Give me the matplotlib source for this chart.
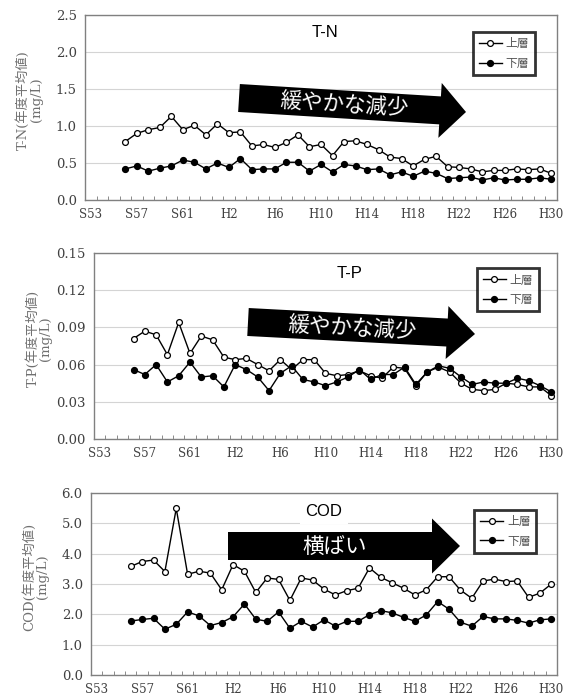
# Lake water quality trends (T-N, T-P, COD), upper/lower layer annual means
import numpy as np
import matplotlib.pyplot as plt
from matplotlib.patches import Polygon

# DATA
years = np.arange(1981, 2019)  # S56 .. H30
tick_years = [1978, 1982, 1986, 1990, 1994, 1998, 2002, 2006, 2010, 2014, 2018]
tick_labels = ["S53", "S57", "S61", "H2", "H6", "H10", "H14", "H18", "H22", "H26", "H30"]

tn_upper = [0.79, 0.90, 0.95, 0.98, 1.13, 0.95, 1.01, 0.88, 1.03, 0.91, 0.92, 0.73, 0.75, 0.71,
            0.78, 0.88, 0.72, 0.75, 0.60, 0.79, 0.80, 0.75, 0.68, 0.58, 0.56, 0.46, 0.55, 0.59,
            0.45, 0.44, 0.42, 0.38, 0.40, 0.40, 0.42, 0.41, 0.42, 0.36]
tn_lower = [0.42, 0.46, 0.39, 0.43, 0.46, 0.54, 0.51, 0.42, 0.50, 0.44, 0.56, 0.41, 0.42, 0.42,
            0.51, 0.51, 0.39, 0.48, 0.38, 0.48, 0.46, 0.41, 0.42, 0.34, 0.38, 0.32, 0.39, 0.36,
            0.29, 0.30, 0.31, 0.27, 0.30, 0.27, 0.28, 0.28, 0.30, 0.28]

tp_upper = [0.081, 0.087, 0.084, 0.068, 0.094, 0.069, 0.083, 0.080, 0.066, 0.064, 0.065, 0.060,
            0.055, 0.064, 0.056, 0.064, 0.064, 0.053, 0.051, 0.052, 0.055, 0.051, 0.049, 0.058,
            0.057, 0.043, 0.054, 0.058, 0.054, 0.045, 0.040, 0.039, 0.040, 0.045, 0.044, 0.042,
            0.042, 0.035]
tp_lower = [0.056, 0.052, 0.060, 0.046, 0.051, 0.062, 0.050, 0.051, 0.042, 0.060, 0.056, 0.050,
            0.039, 0.053, 0.059, 0.048, 0.046, 0.043, 0.046, 0.050, 0.056, 0.048, 0.052, 0.052,
            0.058, 0.044, 0.054, 0.059, 0.057, 0.050, 0.044, 0.046, 0.045, 0.045, 0.049, 0.047,
            0.043, 0.038]

cod_upper = [3.58, 3.74, 3.79, 3.41, 5.49, 3.32, 3.42, 3.36, 2.81, 3.64, 3.42, 2.72, 3.20, 3.15,
             2.46, 3.20, 3.13, 2.83, 2.64, 2.78, 2.86, 3.53, 3.22, 3.04, 2.86, 2.64, 2.81, 3.24,
             3.24, 2.80, 2.53, 3.10, 3.16, 3.08, 3.10, 2.56, 2.70, 3.00]
cod_lower = [1.78, 1.83, 1.87, 1.51, 1.67, 2.08, 1.95, 1.63, 1.73, 1.92, 2.34, 1.84, 1.77, 2.08,
             1.54, 1.77, 1.58, 1.82, 1.61, 1.77, 1.77, 1.99, 2.12, 2.05, 1.90, 1.77, 1.98, 2.42,
             2.17, 1.74, 1.61, 1.93, 1.85, 1.85, 1.80, 1.71, 1.82, 1.85]

W, H = 568, 697
fig = plt.figure(figsize=(W / 100, H / 100), dpi=100)

jp_serif = ["DejaVu Serif", "Noto Sans CJK JP"]
jp_sans = ["Noto Sans CJK JP", "DejaVu Sans"]


def px_rect(left, top, right, bottom):
    # pixel box (image coords) -> figure fraction rect
    return [left / W, 1 - bottom / H, (right - left) / W, (bottom - top) / H]


def draw_arrow(tail, tip, body_w, head_w, head_l, text, text_xy, rot):
    t = np.array(tail, float)
    p = np.array(tip, float)
    u = (p - t) / np.linalg.norm(p - t)
    n = np.array([-u[1], u[0]])
    base = p - u * head_l
    pts = [t + n * body_w / 2, base + n * body_w / 2, base + n * head_w / 2, p,
           base - n * head_w / 2, base - n * body_w / 2, t - n * body_w / 2]
    pts = [(q[0] / W, 1 - q[1] / H) for q in pts]
    fig.add_artist(Polygon(pts, closed=True, transform=fig.transFigure,
                           facecolor="black", edgecolor="none", zorder=5))
    fig.text(text_xy[0] / W, 1 - text_xy[1] / H, text, color="white", fontsize=15.5,
             family=jp_sans, ha="center", va="center", rotation=rot, zorder=6)


def panel(rect, upper, lower, ylim, yticks, yfmt, ylabel, title, title_xy, leg_xy):
    ax = fig.add_axes(rect)
    ax.plot(years, upper, color="black", lw=1.0, marker="o", ms=4.2,
            mfc="white", mec="black", mew=0.9, label="上層", zorder=3)
    ax.plot(years, lower, color="black", lw=1.0, marker="o", ms=4.2,
            mfc="black", mec="black", label="下層", zorder=4)
    ax.set_xlim(1977.5, 2018.5)
    ax.set_ylim(*ylim)
    ax.set_yticks(yticks)
    ax.set_yticklabels([yfmt.format(v) for v in yticks], family="DejaVu Serif",
                       fontsize=9.5, color="#404040")
    ax.set_xticks(tick_years)
    ax.set_xticklabels(tick_labels, family="DejaVu Serif", fontsize=8.5, color="#404040")
    ax.set_xticks(np.arange(1978.5, 2018.5, 1), minor=True)
    ax.tick_params(axis="x", which="major", length=0, pad=6)
    ax.tick_params(axis="x", which="minor", direction="in", length=3, color="#777777")
    ax.tick_params(axis="y", length=0, pad=6)
    ax.grid(axis="y", color="#d4d4d4", lw=0.8)
    ax.set_axisbelow(True)
    for s in ax.spines.values():
        s.set_color("#808080")
        s.set_linewidth(1.0)
    ax.set_ylabel(ylabel, family=jp_serif, fontsize=9.5, color="#707070", linespacing=1.0)
    ax.yaxis.set_label_coords(-0.09, 0.54)
    ax.text(title_xy[0], title_xy[1], title, transform=ax.transAxes, ha="center", va="center",
            fontsize=12, family=["Liberation Sans", "DejaVu Sans"], zorder=6,
            bbox=dict(facecolor="white", edgecolor="none", pad=4))
    leg = ax.legend(loc="upper right", bbox_to_anchor=leg_xy, frameon=True,
                    fancybox=False, handlelength=2.0, handletextpad=0.3, labelspacing=0.55,
                    borderpad=0.45, prop={"family": jp_sans, "size": 8.5})
    leg.get_frame().set_edgecolor("black")
    leg.get_frame().set_linewidth(2.0)
    for t in leg.get_texts():
        t.set_color("#555555")
    return ax


panel(px_rect(85, 15, 557, 200), tn_upper, tn_lower, (0, 2.5),
      [0.0, 0.5, 1.0, 1.5, 2.0, 2.5], "{:.1f}", "T-N(年度平均値)\n(mg/L)",
      "T-N", (0.509, 0.905), (0.965, 0.94))
draw_arrow((239, 98), (466, 112), 28, 55, 26, "緩やかな減少", (344, 105), -3.5)

panel(px_rect(94, 253, 557, 439), tp_upper, tp_lower, (0, 0.15),
      [0.0, 0.03, 0.06, 0.09, 0.12, 0.15], "{:.2f}", "T-P(年度平均値)\n(mg/L)",
      "T-P", (0.551, 0.89), (0.973, 0.95))
draw_arrow((248, 322), (475, 334), 28, 53, 28, "緩やかな減少", (352, 328), -3.0)

panel(px_rect(91, 493, 557, 675), cod_upper, cod_lower, (0, 6.0),
      [0.0, 1.0, 2.0, 3.0, 4.0, 5.0, 6.0], "{:.1f}", "COD(年度平均値)\n(mg/L)",
      "COD", (0.50, 0.90), (0.967, 0.94))
draw_arrow((228, 546), (460, 546), 28, 55, 28, "横ばい", (335, 547), 0)

fig.savefig("out.png", dpi=100)
